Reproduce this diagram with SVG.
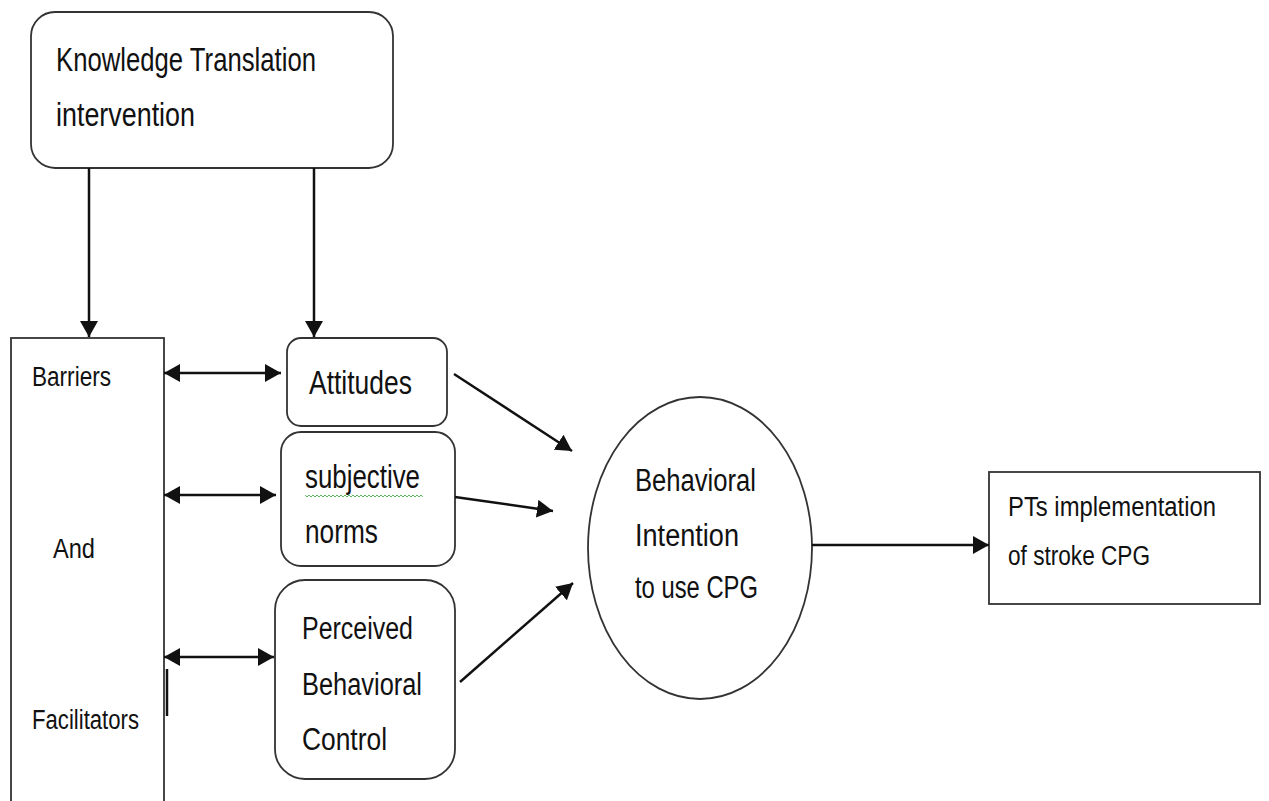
<svg xmlns="http://www.w3.org/2000/svg" width="1269" height="801" viewBox="0 0 1269 801">
<style>
  .box { fill: #fff; stroke: #333; stroke-width: 1.8; }
  .conn { stroke: #111; stroke-width: 2.5; fill: none; }
  text { font-family: "Liberation Sans", Arial, sans-serif; fill: #111; }
  .big { font-size: 33px; }
  .mid { font-size: 31px; }
  .sm { font-size: 27px; }
  .pt { font-size: 27px; }
</style>
<defs>
  <marker id="ah" viewBox="0 0 16 18" refX="16" refY="9" markerWidth="16" markerHeight="18" markerUnits="userSpaceOnUse" orient="auto-start-reverse">
    <path d="M0,0 L16,9 L0,18 z" fill="#111"/>
  </marker>
</defs>
<rect width="1269" height="801" fill="#fff"/>

<g id="kt-intervention">
  <rect class="box" x="31" y="12" width="362" height="156" rx="24"/>
  <text class="big" x="56" y="71" textLength="260" lengthAdjust="spacingAndGlyphs">Knowledge Translation</text>
  <text class="big" x="56" y="126" textLength="139" lengthAdjust="spacingAndGlyphs">intervention</text>
</g>

<g id="barriers-facilitators">
  <rect class="box" x="11" y="338" width="153" height="480"/>
  <text class="sm" x="32" y="386" textLength="79" lengthAdjust="spacingAndGlyphs">Barriers</text>
  <text class="sm" x="53" y="558" textLength="42" lengthAdjust="spacingAndGlyphs">And</text>
  <text class="sm" x="32" y="729" textLength="107" lengthAdjust="spacingAndGlyphs">Facilitators</text>
</g>

<g id="attitudes">
  <rect class="box" x="287" y="338" width="160" height="88" rx="14"/>
  <text class="big" x="309" y="394" textLength="103" lengthAdjust="spacingAndGlyphs">Attitudes</text>
</g>

<g id="subjective-norms">
  <rect class="box" x="281" y="432" width="174" height="134" rx="20"/>
  <text class="big" x="305" y="488" textLength="115" lengthAdjust="spacingAndGlyphs">subjective</text>
  <path d="M305,495 l2,2 l2,-2 l2,2 l2,-2 l2,2 l2,-2 l2,2 l2,-2 l2,2 l2,-2 l2,2 l2,-2 l2,2 l2,-2 l2,2 l2,-2 l2,2 l2,-2 l2,2 l2,-2 l2,2 l2,-2 l2,2 l2,-2 l2,2 l2,-2 l2,2 l2,-2 l2,2 l2,-2 l2,2 l2,-2 l2,2 l2,-2 l2,2 l2,-2 l2,2 l2,-2 l2,2 l2,-2 l2,2 l2,-2 l2,2 l2,-2 l2,2 l2,-2 l2,2 l2,-2 l2,2 l2,-2 l2,2 l2,-2 l2,2 l2,-2 l2,2 l2,-2 l2,2 l2,-2 l2,2" fill="none" stroke="#5cb85c" stroke-width="1"/>
  <text class="big" x="305" y="543" textLength="73" lengthAdjust="spacingAndGlyphs">norms</text>
</g>

<g id="perceived-behavioral-control">
  <rect class="box" x="275" y="580" width="180" height="199" rx="30"/>
  <text class="mid" x="302" y="639" textLength="111" lengthAdjust="spacingAndGlyphs">Perceived</text>
  <text class="mid" x="302" y="695" textLength="120" lengthAdjust="spacingAndGlyphs">Behavioral</text>
  <text class="mid" x="302" y="750" textLength="85" lengthAdjust="spacingAndGlyphs">Control</text>
</g>

<g id="behavioral-intention">
  <ellipse class="box" cx="700" cy="548" rx="112" ry="151" stroke-width="1.5"/>
  <text class="mid" x="635" y="491" textLength="121" lengthAdjust="spacingAndGlyphs">Behavioral</text>
  <text class="mid" x="635" y="546" textLength="104" lengthAdjust="spacingAndGlyphs">Intention</text>
  <text class="mid" x="635" y="598" textLength="123" lengthAdjust="spacingAndGlyphs">to use CPG</text>
</g>

<g id="pts-implementation">
  <rect class="box" x="989" y="472" width="271" height="132"/>
  <text class="pt" x="1008" y="516" textLength="208" lengthAdjust="spacingAndGlyphs">PTs implementation</text>
  <text class="pt" x="1008" y="565" textLength="142" lengthAdjust="spacingAndGlyphs">of stroke CPG</text>
</g>

<g id="connectors">
  <line class="conn" x1="89" y1="168" x2="89" y2="337" marker-end="url(#ah)"/>
  <line class="conn" x1="314" y1="168" x2="314" y2="337" marker-end="url(#ah)"/>
  <line class="conn" x1="164" y1="373" x2="281" y2="373" marker-start="url(#ah)" marker-end="url(#ah)"/>
  <line class="conn" x1="164" y1="495" x2="276" y2="495" marker-start="url(#ah)" marker-end="url(#ah)"/>
  <line class="conn" x1="164" y1="657" x2="274" y2="657" marker-start="url(#ah)" marker-end="url(#ah)"/>
  <line class="conn" x1="454" y1="374" x2="572" y2="451" marker-end="url(#ah)"/>
  <line class="conn" x1="455" y1="497" x2="553" y2="511" marker-end="url(#ah)"/>
  <line class="conn" x1="460" y1="682" x2="573" y2="583" marker-end="url(#ah)"/>
  <line class="conn" x1="812" y1="545" x2="989" y2="545" marker-end="url(#ah)"/>
  <line x1="167" y1="669" x2="167" y2="716" stroke="#111" stroke-width="2.5"/>
</g>
</svg>
